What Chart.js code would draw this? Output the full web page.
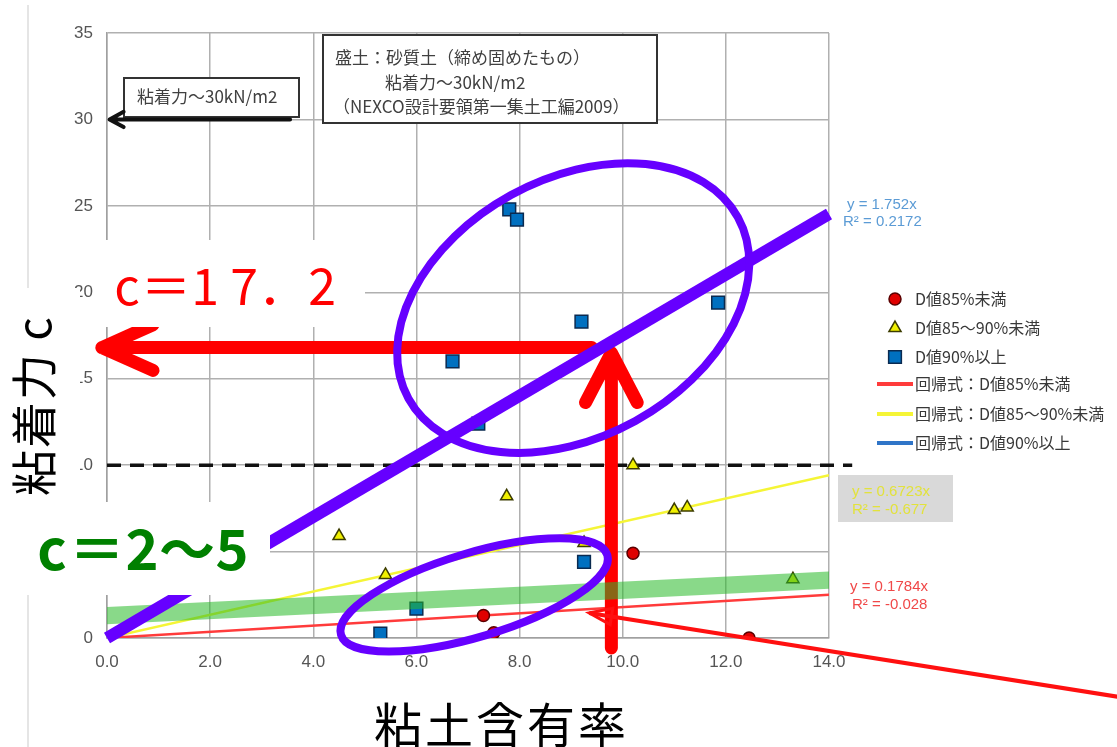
<!DOCTYPE html>
<html>
<head>
<meta charset="utf-8">
<script src="https://cdn.jsdelivr.net/npm/chart.js@4.4.1/dist/chart.umd.min.js"></script>
<style>
html, body { margin: 0; padding: 0; background: #fff; }
</style>
</head>
<body>
<canvas id="clayChart" width="1117" height="747"></canvas>
<script>
// Scatter data (x: clay content, y: cohesion kN/m2)
const redX = [7.3, 7.5, 10.2, 12.45];
const redY = [1.3, 0.3, 4.9, 0.0];
const yellowX = [4.5, 5.4, 7.75, 9.25, 10.2, 11.0, 11.25, 13.3];
const yellowY = [5.9, 3.65, 8.2, 5.5, 10.0, 7.4, 7.55, 3.4];
const blueX = [5.3, 6.0, 6.7, 7.2, 7.8, 7.95, 9.2, 9.25, 11.85];
const blueY = [0.25, 1.7, 16.0, 12.4, 24.8, 24.2, 18.3, 4.4, 19.4];

// Regression lines (through origin), end values read at x = 14
const regX = [0, 14];
const regRedY = [0, 2.5];
const regYellowY = [0, 9.41];
const regBlueY = [0, 24.53];

const seriesNames = ['D値85%未満', 'D値85～90%未満', 'D値90%以上'];
const regNames = ['回帰式：D値85%未満', '回帰式：D値85～90%未満', '回帰式：D値90%以上'];
const regRedText = ['y = 0.1784x', 'R² = -0.028'];
const regYellowText = ['y = 0.6723x', 'R² = -0.677'];
const regBlueText = ['y = 1.752x', 'R² = 0.2172'];

const xTicks = [0, 2, 4, 6, 8, 10, 12, 14];
const yTicks = [0, 5, 10, 15, 20, 25, 30, 35];

const xTitle = '粘土含有率';
const yTitle = '粘着力c';
const noteBig = ['盛土：砂質土（締め固めたもの）', '粘着力～30kN/m2', '（NEXCO設計要領第一集土工編2009）'];
const noteSmall = '粘着力～30kN/m2';
const noteHigh = 'c＝17．2';
const noteLow = 'c＝2～5';

const designC = 10;   // dashed line
const targetC = 30;   // arrow to 30
const readC = 16.8;   // horizontal read-off arrow
const readX = 9.78;   // vertical read-off arrow

const JP = '"Noto Sans CJK JP", "Noto Sans", sans-serif';

function pts(xs, ys) {
    return xs.map((x, i) => ({ x: x, y: ys[i] }));
}

function arrow(ctx, x1, y1, x2, y2, width, color, head, angle) {
    const a = Math.atan2(y2 - y1, x2 - x1);
    ctx.save();
    ctx.strokeStyle = color;
    ctx.lineWidth = width;
    ctx.lineCap = 'round';
    ctx.lineJoin = 'round';
    ctx.beginPath();
    ctx.moveTo(x1, y1);
    ctx.lineTo(x2, y2);
    ctx.moveTo(x2 - head * Math.cos(a - angle), y2 - head * Math.sin(a - angle));
    ctx.lineTo(x2, y2);
    ctx.lineTo(x2 - head * Math.cos(a + angle), y2 - head * Math.sin(a + angle));
    ctx.stroke();
    ctx.restore();
}

// draw text one character at a time on a fixed pitch
function spaced(ctx, text, x, y, pitch) {
    const chars = Array.from(text);
    chars.forEach((ch, i) => ctx.fillText(ch, x + i * pitch, y));
}

const overlay = {
    id: 'overlay',
    beforeDraw(chart) {
        const ctx = chart.ctx;
        ctx.save();
        ctx.strokeStyle = '#dcdcdc';
        ctx.lineWidth = 1.5;
        ctx.beginPath();
        ctx.moveTo(28, 5);
        ctx.lineTo(28, 747);
        ctx.stroke();
        ctx.restore();
    },
    beforeDatasetsDraw(chart) {
        const { ctx, scales: { x, y } } = chart;
        ctx.save();
        ctx.strokeStyle = '#111';
        ctx.lineWidth = 3.5;
        ctx.setLineDash([14, 9]);
        ctx.beginPath();
        ctx.moveTo(x.getPixelForValue(0), y.getPixelForValue(designC));
        ctx.lineTo(x.getPixelForValue(14.45), y.getPixelForValue(designC));
        ctx.stroke();
        ctx.restore();
    },
    afterDatasetsDraw(chart) {
        const { ctx, scales: { x, y } } = chart;
        const X = v => x.getPixelForValue(v);
        const Y = v => y.getPixelForValue(v);

        // vertical read-off arrow
        arrow(ctx, X(readX), Y(-0.58), X(readX), Y(16.5), 13, '#ff0000', 56, 0.48);

        // long red pointer from lower right
        ctx.save();
        ctx.strokeStyle = '#ff1010';
        ctx.lineWidth = 4;
        ctx.beginPath();
        ctx.moveTo(X(19.6), Y(-3.4));
        ctx.lineTo(X(9.35), Y(1.45));
        ctx.stroke();
        const a = Math.atan2(Y(1.45) - Y(-3.4), X(9.35) - X(19.6));
        const tx = X(9.35), ty = Y(1.45);
        ctx.lineWidth = 3;
        ctx.beginPath();
        ctx.moveTo(tx - 24 * Math.cos(a - 0.35), ty - 24 * Math.sin(a - 0.35));
        ctx.lineTo(tx, ty);
        ctx.lineTo(tx - 24 * Math.cos(a + 0.35), ty - 24 * Math.sin(a + 0.35));
        ctx.closePath();
        ctx.stroke();
        ctx.restore();

        // green band
        ctx.save();
        ctx.fillStyle = 'rgba(40, 185, 40, 0.55)';
        ctx.beginPath();
        ctx.moveTo(X(0), Y(0.8));
        ctx.lineTo(X(14), Y(2.85));
        ctx.lineTo(X(14), Y(3.85));
        ctx.lineTo(X(0), Y(1.8));
        ctx.closePath();
        ctx.fill();
        ctx.restore();

        // horizontal read-off arrow
        arrow(ctx, X(9.4), Y(readC), X(-0.1), Y(readC), 13, '#ff0000', 56, 0.42);

        // purple trend line and ellipses
        ctx.save();
        ctx.strokeStyle = '#6600ff';
        ctx.lineWidth = 12;
        ctx.lineCap = 'butt';
        ctx.beginPath();
        ctx.moveTo(X(0), Y(0));
        ctx.lineTo(X(14), Y(24.53));
        ctx.stroke();
        ctx.lineWidth = 8;
        ctx.beginPath();
        ctx.ellipse(X(9.04), Y(19.09), 188, 129, -0.503, 0, Math.PI * 2);
        ctx.stroke();
        ctx.beginPath();
        ctx.ellipse(X(7.12), Y(2.49), 139, 42, -0.291, 0, Math.PI * 2);
        ctx.stroke();
        ctx.restore();
    },
    afterDraw(chart) {
        const { ctx, scales: { x, y } } = chart;
        const X = v => x.getPixelForValue(v);
        const Y = v => y.getPixelForValue(v);
        ctx.save();

        // white boxes behind the big annotations
        ctx.fillStyle = '#ffffff';
        ctx.fillRect(97, 240, 268, 87);
        ctx.fillRect(0, 288, 80, 214);
        ctx.fillRect(0, 502, 270, 93);

        ctx.textAlign = 'center';
        ctx.textBaseline = 'middle';

        ctx.fillStyle = '#ff0000';
        ctx.font = '50px ' + JP;
        spaced(ctx, noteHigh, 127, 286, 39);

        ctx.fillStyle = '#008000';
        ctx.font = 'bold 56px ' + JP;
        spaced(ctx, noteLow, 52, 549, 45);

        // rotated y title
        ctx.fillStyle = '#000';
        ctx.font = '46px ' + JP;
        Array.from(yTitle).forEach((ch, i) => {
            ctx.save();
            ctx.translate(34, 473 - i * 48);
            ctx.rotate(-Math.PI / 2);
            ctx.fillText(ch, 0, 0);
            ctx.restore();
        });

        // x title
        ctx.font = '48px ' + JP;
        spaced(ctx, xTitle, 398, 725, 51);

        // note boxes at the top
        ctx.lineWidth = 2;
        ctx.strokeStyle = '#333';
        ctx.fillStyle = '#fff';
        ctx.fillRect(323, 35, 334, 88);
        ctx.strokeRect(323, 35, 334, 88);
        ctx.fillRect(124, 78, 175, 39);
        ctx.strokeRect(124, 78, 175, 39);

        ctx.fillStyle = '#404040';
        ctx.textAlign = 'left';
        ctx.font = '17px ' + JP;
        ctx.fillText(noteBig[0], 335, 58);
        ctx.fillText(noteBig[1], 385, 83);
        ctx.fillText(noteBig[2], 333, 107);
        ctx.fillText(noteSmall, 137, 97);
        ctx.restore();

        arrow(ctx, X(3.55), Y(targetC), X(0.05), Y(targetC), 4, '#111', 16, 0.5);

        // regression equation labels
        ctx.save();
        ctx.font = '15px "Liberation Sans", Arial, sans-serif';
        ctx.textBaseline = 'middle';
        ctx.textAlign = 'left';
        ctx.fillStyle = '#5b9bd5';
        ctx.fillText(regBlueText[0], 847, 205);
        ctx.fillText(regBlueText[1], 843, 222);
        ctx.fillStyle = '#d9d9d9';
        ctx.fillRect(838, 475, 115, 47);
        ctx.fillStyle = '#e2e23c';
        ctx.fillText(regYellowText[0], 852, 492);
        ctx.fillText(regYellowText[1], 852, 510);
        ctx.fillStyle = '#f04848';
        ctx.fillText(regRedText[0], 850, 587);
        ctx.fillText(regRedText[1], 852, 605);
        ctx.restore();

        // legend
        ctx.save();
        const ds = chart.data.datasets;
        const rows = [299, 328, 357, 384, 414, 443];
        ctx.font = '16px ' + JP;
        ctx.textBaseline = 'middle';
        ctx.textAlign = 'left';
        for (let i = 0; i < 3; i++) {
            const d = ds[i];
            ctx.fillStyle = d.backgroundColor;
            ctx.strokeStyle = d.borderColor;
            ctx.lineWidth = d.borderWidth;
            const opts = { pointStyle: d.pointStyle, radius: d.pointRadius, rotation: 0, borderWidth: d.borderWidth };
            if (Chart.helpers && Chart.helpers.drawPoint) {
                Chart.helpers.drawPoint(ctx, opts, 895, rows[i]);
            }
            ctx.fillStyle = '#383838';
            ctx.fillText(d.label, 915, rows[i]);
        }
        for (let i = 0; i < 3; i++) {
            const d = ds[3 + i];
            ctx.strokeStyle = d.borderColor;
            ctx.lineWidth = 4;
            ctx.beginPath();
            ctx.moveTo(877, rows[3 + i]);
            ctx.lineTo(913, rows[3 + i]);
            ctx.stroke();
            ctx.fillStyle = '#383838';
            ctx.fillText(d.label, 915, rows[3 + i]);
        }
        ctx.restore();
    }
};

const ctx = document.getElementById('clayChart').getContext('2d');
const clayChart = new Chart(ctx, {
    type: 'scatter',
    data: {
        datasets: [{
            label: seriesNames[0],
            data: pts(redX, redY),
            pointStyle: 'circle',
            pointRadius: 6,
            backgroundColor: '#e00000',
            borderColor: '#5a0000',
            borderWidth: 1.5
        }, {
            label: seriesNames[1],
            data: pts(yellowX, yellowY),
            pointStyle: 'triangle',
            pointRadius: 7,
            backgroundColor: '#f0f000',
            borderColor: '#3c3c00',
            borderWidth: 1.5
        }, {
            label: seriesNames[2],
            data: pts(blueX, blueY),
            pointStyle: 'rect',
            pointRadius: 9,
            backgroundColor: '#0070c0',
            borderColor: '#0a2a50',
            borderWidth: 1.5
        }, {
            label: regNames[0],
            data: pts(regX, regRedY),
            showLine: true,
            pointRadius: 0,
            borderColor: '#ff3b3b',
            borderWidth: 2.5
        }, {
            label: regNames[1],
            data: pts(regX, regYellowY),
            showLine: true,
            pointRadius: 0,
            borderColor: '#f5f536',
            borderWidth: 2.5
        }, {
            label: regNames[2],
            data: pts(regX, regBlueY),
            showLine: true,
            pointRadius: 0,
            borderColor: '#2f75c8',
            borderWidth: 2.5
        }]
    },
    options: {
        responsive: false,
        animation: false,
        layout: { padding: { left: 0, right: 288, top: 33, bottom: 0 } },
        scales: {
            x: {
                type: 'linear',
                min: 0,
                max: 14,
                afterBuildTicks: scale => { scale.ticks = xTicks.map(v => ({ value: v })); },
                afterFit: scale => { scale.height = 109; scale.paddingLeft = 0; scale.paddingRight = 0; },
                grid: { color: '#b0b0b0', lineWidth: 1.5, drawTicks: false },
                border: { color: '#a0a0a0', width: 1.5 },
                ticks: {
                    padding: 14,
                    color: '#555555',
                    font: { family: '"Liberation Sans", Arial, sans-serif', size: 17 },
                    callback: v => v.toFixed(1)
                }
            },
            y: {
                type: 'linear',
                min: 0,
                max: 35,
                afterBuildTicks: scale => { scale.ticks = yTicks.map(v => ({ value: v })); },
                afterFit: scale => { scale.width = 107; scale.paddingTop = 0; scale.paddingBottom = 0; },
                grid: { color: '#b0b0b0', lineWidth: 1.5, drawTicks: false },
                border: { color: '#a0a0a0', width: 1.5 },
                ticks: {
                    padding: 14,
                    color: '#555555',
                    font: { family: '"Liberation Sans", Arial, sans-serif', size: 17 }
                }
            }
        },
        plugins: {
            legend: { display: false },
            tooltip: { enabled: false }
        }
    },
    plugins: [overlay]
});
</script>
</body>
</html>
